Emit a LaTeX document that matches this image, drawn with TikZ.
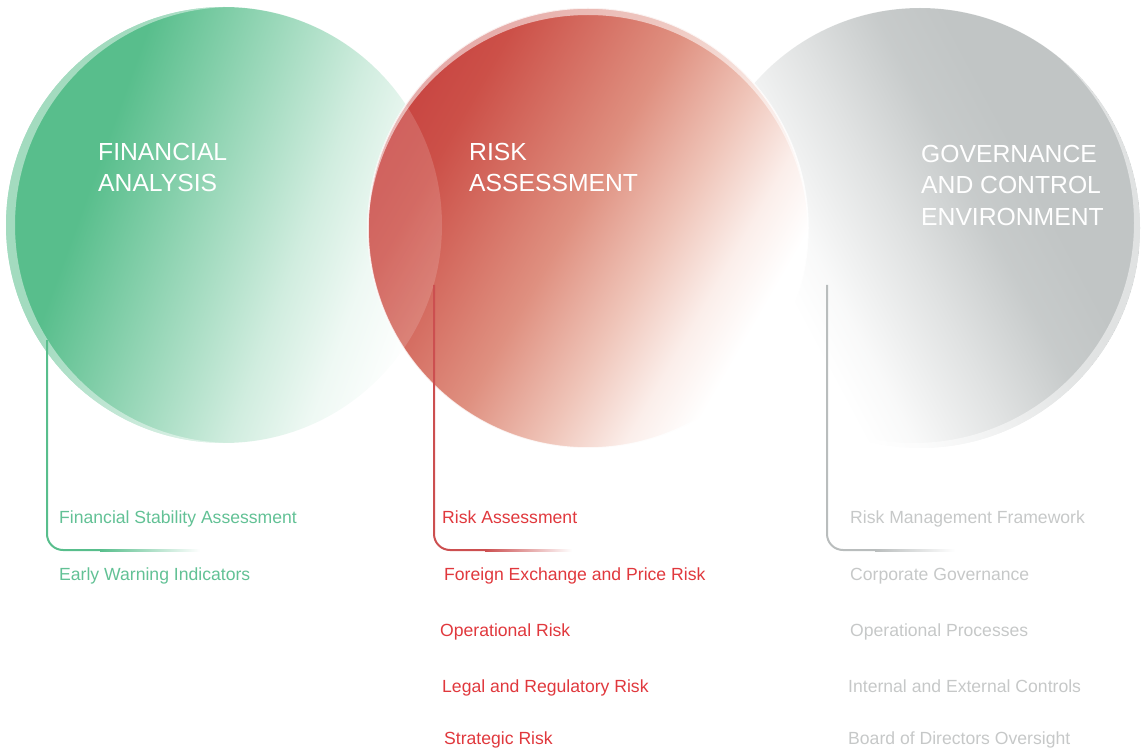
\documentclass[tikz,border=0pt]{standalone}
\usepackage{fontspec}
\setmainfont{Liberation Sans}
\usetikzlibrary{positioning}

\definecolor{finGreen}{HTML}{58BE8C}
\definecolor{finLabel}{HTML}{62C195}
\definecolor{riskRed}{HTML}{C63B3C}
\definecolor{riskDark}{HTML}{C43A3B}
\definecolor{riskWarm}{HTML}{CC5048}
\definecolor{riskMid}{HTML}{DF9080}
\definecolor{riskPale}{HTML}{EFC4B8}
\definecolor{riskMist}{HTML}{FBEEEA}
\definecolor{riskLabel}{HTML}{E0383D}
\definecolor{govGray}{HTML}{C1C5C5}
\definecolor{govLabel}{HTML}{C6C8C8}
\definecolor{govLine}{HTML}{B9BDBD}

% disc fills, left to right before rotation
\pgfdeclarehorizontalshading{finfade}{100bp}{color(0bp)=(finGreen); color(34bp)=(finGreen); color(46bp)=(finGreen!65!white); color(59bp)=(finGreen!28!white); color(67bp)=(finGreen!10!white); color(75bp)=(white); color(100bp)=(white)}
\pgfdeclarehorizontalshading{riskfade}{100bp}{color(0bp)=(riskDark); color(18bp)=(riskDark); color(31bp)=(riskWarm); color(48bp)=(riskMid); color(58bp)=(riskPale); color(66bp)=(riskMist); color(72bp)=(white); color(100bp)=(white)}
\pgfdeclarehorizontalshading{govfade}{100bp}{color(0bp)=(white); color(33bp)=(white); color(38bp)=(govGray!10!white); color(48bp)=(govGray!50!white); color(57bp)=(govGray!90!white); color(64bp)=(govGray); color(100bp)=(govGray)}

\begin{document}
\begin{tikzpicture}[x=1pt, y=-1pt,
  title/.style={anchor=north west, inner sep=0pt, align=left, text=white,
                font=\fontsize{24.7}{31.5}\selectfont},
  item/.style={anchor=base west, inner sep=0pt, font=\fontsize{17.6}{20}\selectfont},
  bracket/.style={line width=2pt},
]
  \useasboundingbox (0,0) rectangle (1143,751);

  \coordinate (fa) at (224,225);
  \coordinate (ra) at (588,228);
  \coordinate (gc) at (920,228);

  % discs
  \shade[shading=finfade, shading angle=-20] (fa) circle (218);
  \begin{scope}
    \clip (fa) circle (218);
    \fill[white, opacity=.45, even odd rule] (fa) circle (218) ([xshift=9pt]fa) circle (218);
  \end{scope}

  \shade[shading=govfade, shading angle=28] (gc) circle (220);
  \begin{scope}
    \clip (gc) circle (220);
    \fill[white, opacity=.5, even odd rule] (gc) circle (220) ([shift={(-6pt,5pt)}]gc) circle (220);
  \end{scope}

  \shade[shading=riskfade, shading angle=-30] (ra) circle (220);
  \begin{scope}
    \clip (ra) circle (220);
    \fill[white, opacity=.55, even odd rule] (ra) circle (220) ([yshift=-7pt]ra) circle (220);
    % lighter where it lies over the green disc
    \clip (fa) circle (218);
    \fill[white, opacity=.15] (ra) circle (220);
  \end{scope}
  \draw[white, line width=1.5pt, opacity=.8] (ra) circle (220);

  % headings
  \node[title] (fa-title) at (98,143) {FINANCIAL\\ANALYSIS};
  \node[title] (ra-title) at (469,143) {RISK\\ASSESSMENT};
  \node[title] (gc-title) at (921,145) {GOVERNANCE\\AND CONTROL\\ENVIRONMENT};

  % brackets
  \coordinate (fa-top) at (47,340);
  \coordinate (fa-mid) at (100,550);
  \coordinate (fa-end) at (200,550);
  \coordinate (ra-top) at (434,285);
  \coordinate (ra-mid) at (485,550);
  \coordinate (ra-end) at (572,550);
  \coordinate (gc-top) at (827,285);
  \coordinate (gc-mid) at (875,550);
  \coordinate (gc-end) at (955,550);
  \draw[bracket, finGreen, rounded corners=16pt] (fa-top) |- (fa-mid);
  \shade[left color=finGreen, right color=white] ([yshift=1pt]fa-mid) rectangle ([yshift=-1pt]fa-end);
  \draw[bracket, riskRed!90!white, rounded corners=16pt] (ra-top) |- (ra-mid);
  \shade[left color=riskRed!90!white, right color=white] ([yshift=1pt]ra-mid) rectangle ([yshift=-1pt]ra-end);
  \draw[bracket, govLine, rounded corners=16pt] (gc-top) |- (gc-mid);
  \shade[left color=govLine, right color=white] ([yshift=1pt]gc-mid) rectangle ([yshift=-1pt]gc-end);

  % items
  \node[item, text=finLabel] (fa1) at (59,523) {Financial Stability Assessment};
  \node[item, text=finLabel] (fa2) at (59,580) {Early Warning Indicators};

  \node[item, text=riskLabel] (ra1) at (442,523) {Risk Assessment};
  \node[item, text=riskLabel] (ra2) at (444,580) {Foreign Exchange and Price Risk};
  \node[item, text=riskLabel] (ra3) at (440,636) {Operational Risk};
  \node[item, text=riskLabel] (ra4) at (442,692) {Legal and Regulatory Risk};
  \node[item, text=riskLabel] (ra5) at (444,744) {Strategic Risk};

  \node[item, text=govLabel] (gc1) at (850,523) {Risk Management Framework};
  \node[item, text=govLabel] (gc2) at (850,580) {Corporate Governance};
  \node[item, text=govLabel] (gc3) at (850,636) {Operational Processes};
  \node[item, text=govLabel] (gc4) at (848,692) {Internal and External Controls};
  \node[item, text=govLabel] (gc5) at (848,744) {Board of Directors Oversight};
\end{tikzpicture}
\end{document}
